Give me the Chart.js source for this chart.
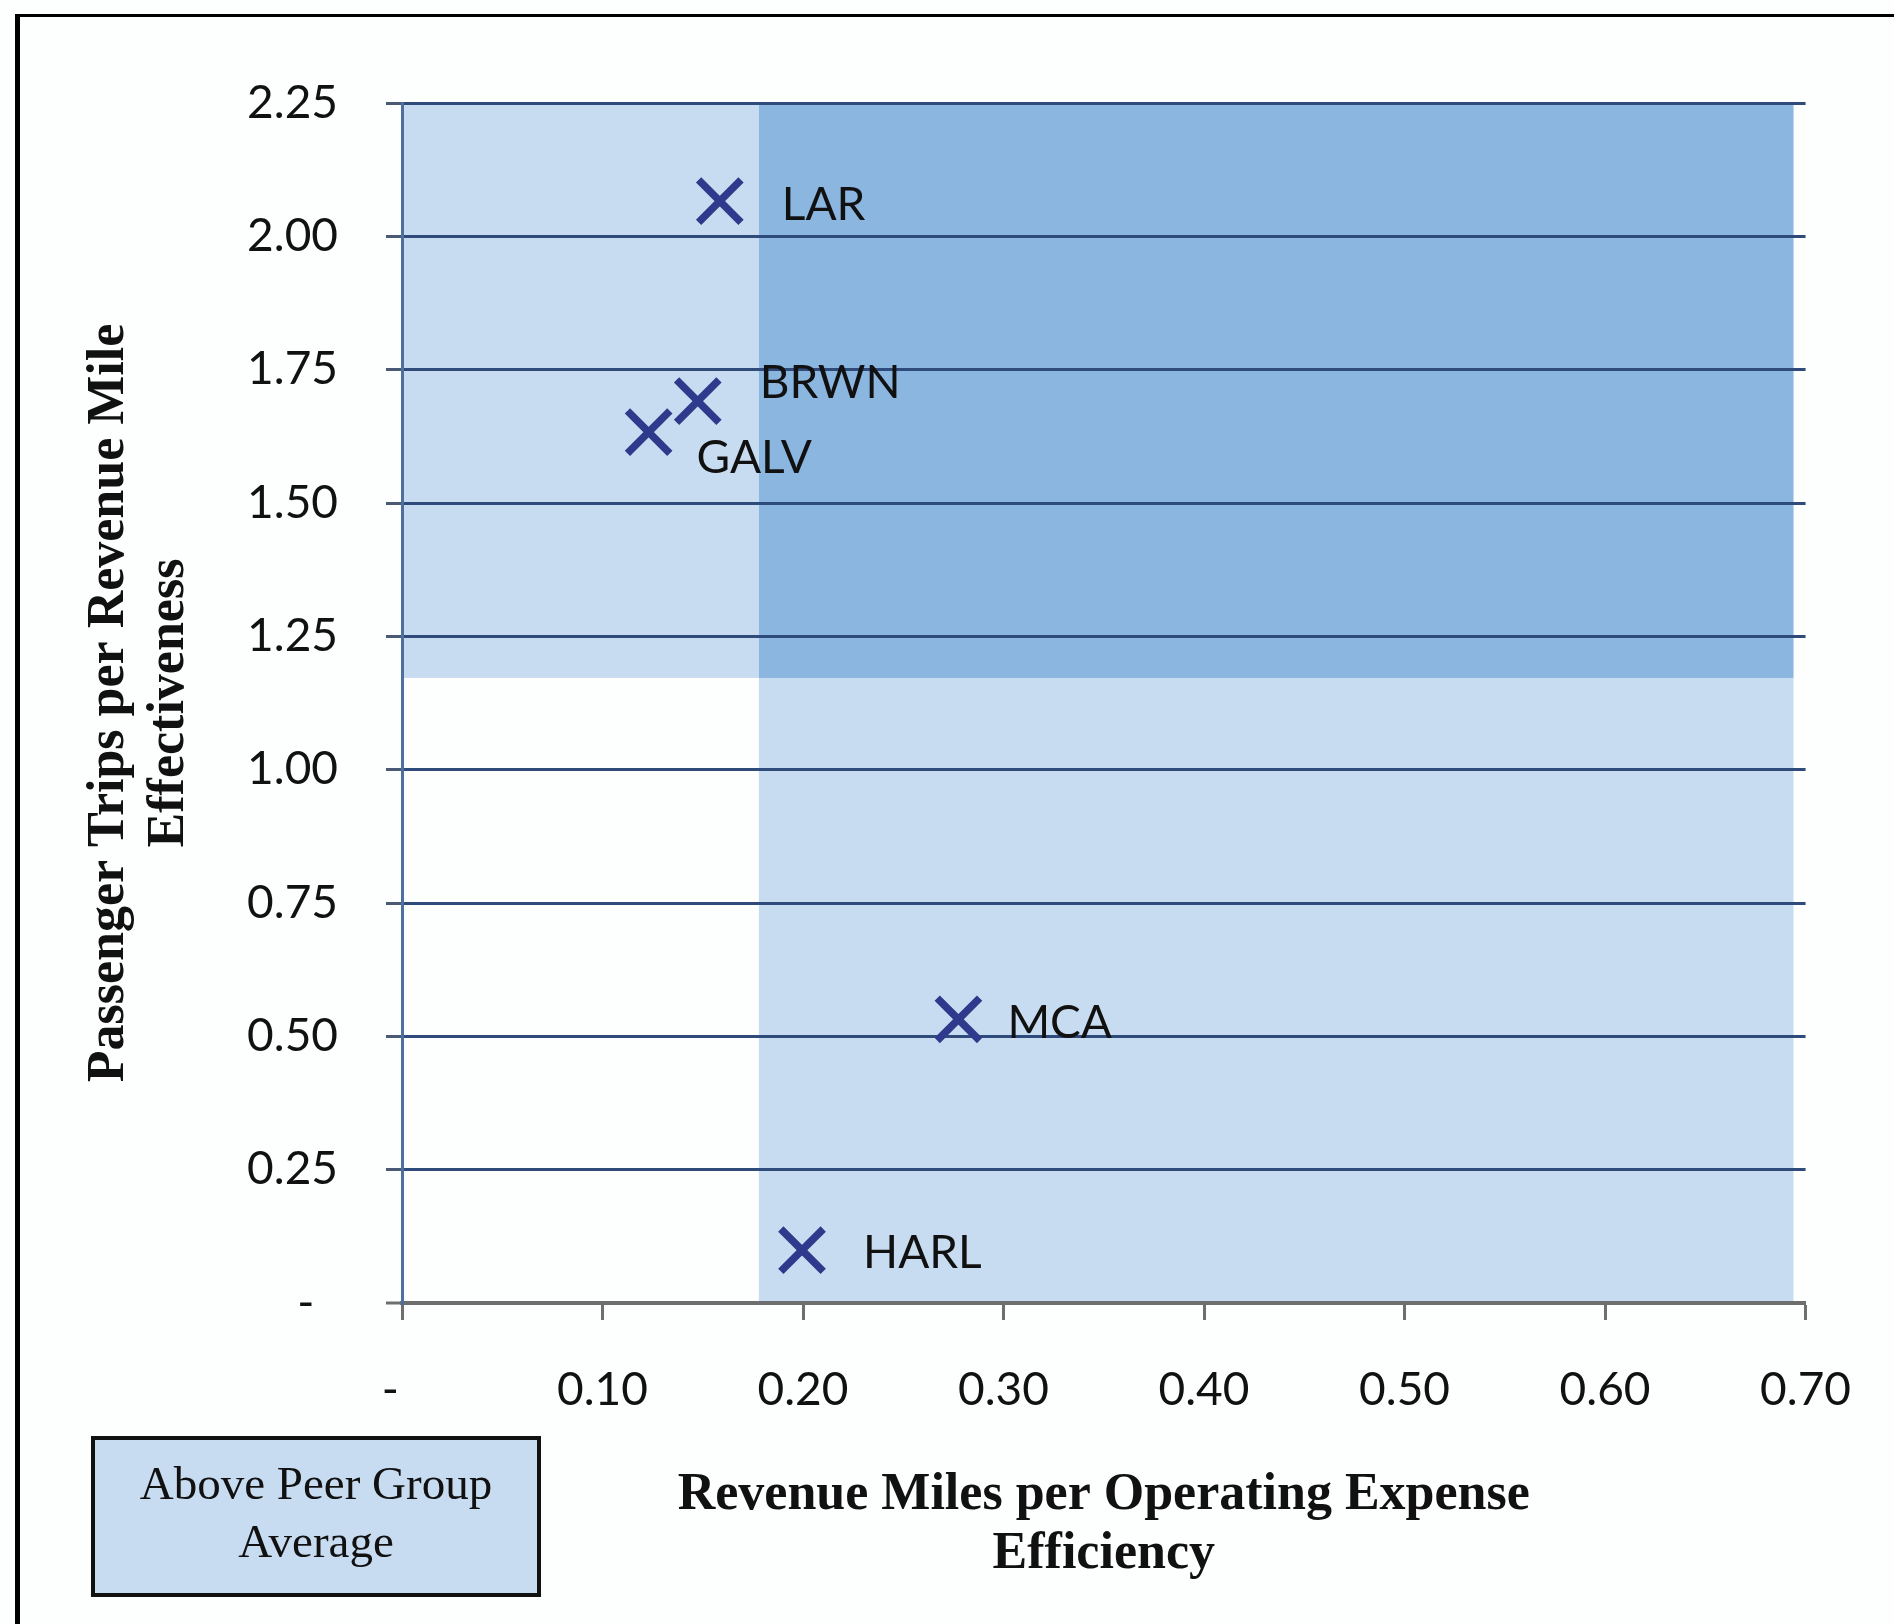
<!DOCTYPE html>
<html>
<head>
<meta charset="utf-8">
<script src="https://cdn.jsdelivr.net/npm/chart.js@4/dist/chart.umd.min.js"></script>
<style>
  html, body { margin: 0; padding: 0; background: #fdfefe; }
  #wrap { position: relative; width: 1894px; height: 1624px; }
  canvas { display: block; }
</style>
</head>
<body>
<div id="wrap"><canvas id="chart" width="1894" height="1624"></canvas></div>
<script>
// Peer agencies: efficiency (x) vs effectiveness (y)
const agencies = ['LAR', 'BRWN', 'GALV', 'MCA', 'HARL'];
const efficiency = [0.1585, 0.1475, 0.123, 0.2775, 0.1995];
const effectiveness = [2.066, 1.691, 1.633, 0.532, 0.099];

// Peer group averages bounding the shaded quadrants
const peerAvgEfficiency = 0.178;
const peerAvgEffectiveness = 1.172;
const shadeMaxEfficiency = 0.694;

// Axis ticks and their labels
const xTickValues = [0, 0.1, 0.2, 0.3, 0.4, 0.5, 0.6, 0.7];
const xTickLabels = ['-  ', '0.10', '0.20', '0.30', '0.40', '0.50', '0.60', '0.70'];
const yTickValues = [0, 0.25, 0.5, 0.75, 1.0, 1.25, 1.5, 1.75, 2.0, 2.25];
const yTickLabels = ['-  ', '0.25', '0.50', '0.75', '1.00', '1.25', '1.50', '1.75', '2.00', '2.25'];

const xTitle = ['Revenue Miles per Operating Expense', 'Efficiency'];
const yTitle = ['Passenger Trips per Revenue Mile', 'Effectiveness'];
const legendLines = ['Above Peer Group', 'Average'];

// Label placement next to each marker: [dx, dy] in pixels
const labelOffsets = {
  LAR: [62, 4], BRWN: [62, -18], GALV: [48, 26], MCA: [49, 4], HARL: [61, 3]
};

const NAVY = '#2f4b7c';
const AXIS_GRAY = '#6e6e6e';
const LIGHT = '#c8dcf1';
const DARK = '#8ab6e0';
const MARK = '#2e3a8c';
const SANS = 'Lato';
const SERIF = '"Liberation Serif", "Times New Roman", serif';

const quadrantShading = {
  id: 'quadrantShading',
  beforeDraw(chart) {
    const { ctx, scales: { x, y } } = chart;
    const x0 = x.getPixelForValue(0);
    const xa = x.getPixelForValue(peerAvgEfficiency);
    const xm = x.getPixelForValue(shadeMaxEfficiency);
    const y0 = y.getPixelForValue(0);
    const ya = y.getPixelForValue(peerAvgEffectiveness);
    const yt = y.getPixelForValue(2.25);
    ctx.save();
    ctx.fillStyle = LIGHT;
    // above-average effectiveness, left of efficiency average
    ctx.fillRect(x0, yt, xa - x0, ya - yt);
    // above-average efficiency, below effectiveness average
    ctx.fillRect(xa, ya, xm - xa, y0 - ya);
    ctx.fillStyle = DARK;
    // above average on both measures
    ctx.fillRect(xa, yt, xm - xa, ya - yt);
    ctx.restore();
  }
};

const pointLabels = {
  id: 'pointLabels',
  afterDatasetsDraw(chart) {
    const { ctx } = chart;
    const meta = chart.getDatasetMeta(0);
    ctx.save();
    ctx.font = '46px ' + SANS;
    ctx.fillStyle = '#111111';
    ctx.textAlign = 'left';
    ctx.textBaseline = 'middle';
    meta.data.forEach((pt, i) => {
      const name = agencies[i];
      const off = labelOffsets[name];
      ctx.fillText(name, pt.x + off[0], pt.y + off[1]);
    });
    ctx.restore();
  }
};

const frameAndKey = {
  id: 'frameAndKey',
  afterDraw(chart) {
    const { ctx } = chart;
    ctx.save();
    // page frame
    ctx.fillStyle = '#000';
    ctx.fillRect(15, 14, 1894 - 15, 3);
    ctx.fillRect(15, 14, 5, 1624 - 14);
    // key box
    const bx = 93, by = 1438, bw = 446, bh = 157;
    ctx.fillStyle = LIGHT;
    ctx.fillRect(bx, by, bw, bh);
    ctx.strokeStyle = '#111';
    ctx.lineWidth = 4;
    ctx.strokeRect(bx, by, bw, bh);
    ctx.fillStyle = '#111';
    ctx.font = '47px ' + SERIF;
    ctx.textAlign = 'center';
    ctx.textBaseline = 'middle';
    ctx.fillText(legendLines[0], bx + bw / 2, 1487);
    ctx.fillText(legendLines[1], bx + bw / 2, 1545);
    ctx.restore();
  }
};

new Chart(document.getElementById('chart'), {
  type: 'scatter',
  data: {
    datasets: [{
      label: 'Peer agencies',
      data: efficiency.map((v, i) => ({ x: v, y: effectiveness[i] })),
      pointStyle: 'crossRot',
      pointRadius: 30,
      pointHoverRadius: 30,
      borderWidth: 7.5,
      borderColor: MARK,
      backgroundColor: MARK
    }]
  },
  options: {
    responsive: false,
    animation: false,
    events: [],
    layout: { padding: { left: 0, top: 103, right: 88, bottom: 0 } },
    plugins: { legend: { display: false }, tooltip: { enabled: false } },
    scales: {
      x: {
        type: 'linear',
        min: 0, max: 0.7,
        afterBuildTicks: axis => { axis.ticks = xTickValues.map(v => ({ value: v })); },
        afterFit: axis => { axis.height = 321; },
        ticks: {
          callback: (v, i) => xTickLabels[i],
          font: { family: SANS, size: 46 },
          color: '#111',
          padding: 43,
          maxRotation: 0,
          autoSkip: false
        },
        grid: {
          drawOnChartArea: false,
          drawTicks: true,
          tickLength: 17,
          tickColor: AXIS_GRAY,
          tickWidth: 3
        },
        border: { display: true, color: AXIS_GRAY, width: 4 },
        title: {
          display: true,
          text: xTitle,
          color: '#111',
          font: { family: SERIF, size: 52, weight: 'bold', lineHeight: '59px' },
          padding: { top: 0, bottom: 40 }
        }
      },
      y: {
        type: 'linear',
        min: 0, max: 2.25,
        afterBuildTicks: axis => { axis.ticks = yTickValues.map(v => ({ value: v })); },
        afterFit: axis => { axis.width = 402; },
        ticks: {
          callback: (v, i) => yTickLabels[i],
          font: { family: SANS, size: 46 },
          color: '#111',
          padding: 48,
          autoSkip: false
        },
        grid: {
          drawTicks: true,
          tickLength: 16,
          color: c => (c.tick && c.tick.value === 0) ? AXIS_GRAY : NAVY,
          lineWidth: c => (c.tick && c.tick.value === 0) ? 4 : 3,
          tickColor: c => (c.tick && c.tick.value === 0) ? AXIS_GRAY : '#4a5a75',
          tickWidth: 3
        },
        border: { display: true, color: '#4f6f9f', width: 3 },
        title: {
          display: true,
          text: yTitle,
          color: '#111',
          font: { family: SERIF, size: 52, weight: 'bold', lineHeight: '60px' },
          padding: { top: 80, bottom: 0 }
        }
      }
    }
  },
  plugins: [quadrantShading, pointLabels, frameAndKey]
});
</script>
</body>
</html>
